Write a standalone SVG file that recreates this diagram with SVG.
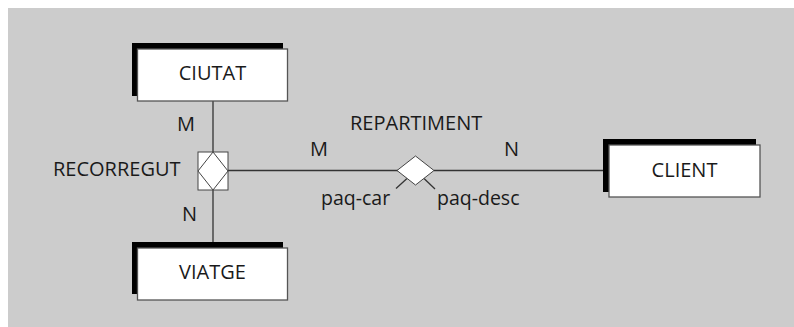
<svg xmlns="http://www.w3.org/2000/svg" width="794" height="327" viewBox="0 0 794 327">
<style>
.t{font-family:"Open Sans","Noto Sans",sans-serif;font-size:20px;fill:#1a1a1a}
.s{font-size:19.5px}
.sh{fill:#000}
.bx{fill:#fff;stroke:#555;stroke-width:1.3}
.ln{stroke:#333;stroke-width:1.3;fill:none}
.rel{fill:#fff;stroke:#444;stroke-width:1}
</style>
<rect x="8" y="8" width="786" height="319" fill="#cccccc"/>
<g id="connectors">
<line class="ln" x1="213" y1="101" x2="213" y2="152"/>
<line class="ln" x1="213" y1="190" x2="213" y2="248"/>
<line class="ln" x1="228" y1="170.5" x2="398" y2="170.5"/>
<line class="ln" x1="434" y1="170.5" x2="604" y2="170.5"/>
<line class="ln" x1="396" y1="188.5" x2="407" y2="178.5"/>
<line class="ln" x1="424" y1="178.5" x2="435" y2="189"/>
<text class="t" x="177" y="131">M</text>
<text class="t" x="182" y="221">N</text>
<text class="t" x="310" y="156">M</text>
<text class="t" x="504" y="156">N</text>
<text class="t s" x="321" y="205">paq-car</text>
<text class="t s" x="437" y="205">paq-desc</text>
</g>
<g id="ciutat">
<rect class="sh" x="132" y="43" width="151" height="53"/>
<rect class="bx" x="137.5" y="49" width="150" height="52"/>
<text class="t" x="212.5" y="80" text-anchor="middle">CIUTAT</text>
</g>
<g id="viatge">
<rect class="sh" x="132" y="242" width="151" height="52"/>
<rect class="bx" x="137.5" y="248" width="150" height="52"/>
<text class="t" x="212.5" y="279" text-anchor="middle">VIATGE</text>
</g>
<g id="client">
<rect class="sh" x="603" y="139" width="153" height="53"/>
<rect class="bx" x="609" y="145" width="151" height="52"/>
<text class="t" x="684.5" y="177" text-anchor="middle">CLIENT</text>
</g>
<g id="recorregut">
<rect class="rel" x="198" y="152" width="30" height="38" stroke="#333"/>
<polygon class="rel" points="213,152 228,171 213,190 198,171"/>
<text class="t" x="53" y="176">RECORREGUT</text>
</g>
<g id="repartiment">
<polygon class="rel" points="415.5,156 434,170.5 415.5,185 397,170.5"/>
<text class="t" x="350" y="130">REPARTIMENT</text>
</g>
</svg>
